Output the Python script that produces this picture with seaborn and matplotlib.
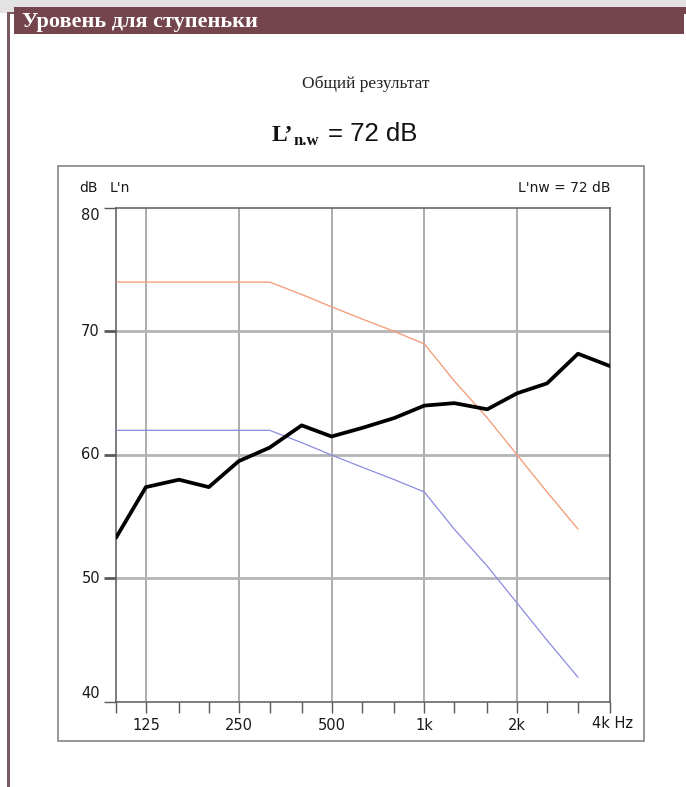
import numpy as np
import pandas as pd
import matplotlib
matplotlib.use("Agg")
import matplotlib.pyplot as plt
import matplotlib.ticker as mticker
from matplotlib.patches import Rectangle
import seaborn as sns

# ---------------- data ----------------
freqs = [100, 125, 160, 200, 250, 315, 400, 500, 630, 800, 1000, 1250, 1600, 2000, 2500, 3150, 4000]
measured = [53.3, 57.4, 58.0, 57.4, 59.5, 60.6, 62.4, 61.5, 62.2, 63.0, 64.0, 64.2, 63.7, 65.0, 65.8, 68.2, 67.2]
ref_freqs = [100, 125, 160, 200, 250, 315, 400, 500, 630, 800, 1000, 1250, 1600, 2000, 2500, 3150]
ref_upper = [74, 74, 74, 74, 74, 74, 73, 72, 71, 70, 69, 66, 63, 60, 57, 54]
ref_lower = [62, 62, 62, 62, 62, 62, 61, 60, 59, 58, 57, 54, 51, 48, 45, 42]
major_x = [125, 250, 500, 1000, 2000, 4000]
major_x_labels = ["125", "250", "500", "1k", "2k", "4k"]
y_ticks = [40, 50, 60, 70, 80]

header_text = "Уровень для ступеньки"
subtitle_text = "Общий результат"
corner_right = "L'nw = 72 dB"

# ---------------- figure ----------------
sns.set_style("white")
W, H = 686, 787
fig = plt.figure(figsize=(W / 100, H / 100), dpi=100)
fig.patch.set_facecolor("white")

def fx(x):
    return x / W

def fy(y):
    return 1 - y / H

def frect(x0, y0, x1, y1, **kw):
    r = Rectangle((fx(x0), fy(y1)), fx(x1) - fx(x0), fy(y0) - fy(y1),
                  transform=fig.transFigure, **kw)
    fig.patches.append(r)

maroon = "#74454d"
# page decoration
frect(0, 0, W, 13, facecolor="#e3e3e3", edgecolor="none")
frect(14, 7, 684, 34, facecolor=maroon, edgecolor="none")
frect(7, 13, 10, H, facecolor="#7a5a60", edgecolor="none")
frect(7, 12, 14, 14, facecolor="#7a5a60", edgecolor="none")
frect(684, 7, 686, 14, facecolor=maroon, edgecolor="none")
frect(58, 166, 644, 741, facecolor="none", edgecolor="#7a7a7a", linewidth=1.1)

fig.text(fx(22), fy(22), header_text, color="white", fontsize=16, fontweight="bold",
         family="Liberation Serif", ha="left", va="center")
fig.text(fx(366), fy(84), subtitle_text, color="#222222", fontsize=12.5,
         family="Liberation Serif", ha="center", va="center")
fig.text(fx(272), fy(141), "L’", color="#111111", fontsize=17, fontweight="bold",
         family="Liberation Serif", ha="left", va="baseline")
fig.text(fx(294), fy(145), "n.w", color="#111111", fontsize=12, fontweight="bold",
         family="Liberation Serif", ha="left", va="baseline")
fig.text(fx(328), fy(141), "= 72 dB", color="#111111", fontsize=18.5,
         family="Liberation Sans", ha="left", va="baseline")

# ---------------- axes ----------------
ax_l, ax_r, ax_t, ax_b = 116, 610, 208, 702
ax = fig.add_axes([fx(ax_l), fy(ax_b), fx(ax_r) - fx(ax_l), fy(ax_t) - fy(ax_b)])
ax.set_facecolor("white")

df_meas = pd.DataFrame({"freq": freqs, "level": measured})
df_up = pd.DataFrame({"freq": ref_freqs, "level": ref_upper})
df_lo = pd.DataFrame({"freq": ref_freqs, "level": ref_lower})

ax.set_xscale("log", base=2)
ax.set_xlim(100, 4000)
ax.set_ylim(40, 80)

for f in major_x[:-1]:
    ax.axvline(f, color="#a6a6a6", linewidth=1.3, zorder=1)
for yv in [50, 60, 70]:
    ax.axhline(yv, color="#b4b4b4", linewidth=2.0, zorder=1)

sns.lineplot(data=df_up, x="freq", y="level", ax=ax, color="#f4a07e", linewidth=1.0, zorder=3)
sns.lineplot(data=df_lo, x="freq", y="level", ax=ax, color="#8c8ce0", linewidth=0.9, zorder=3)
sns.lineplot(data=df_meas, x="freq", y="level", ax=ax, color="black", linewidth=2.7, zorder=4)

ax.set_xlabel("")
ax.set_ylabel("")

spine_c = "#5a5a5a"
for s in ax.spines.values():
    s.set_visible(True)
    s.set_color(spine_c)
    s.set_linewidth(1.1)

txt_c = "#1a1a1a"
# x ticks
ax.xaxis.set_major_locator(mticker.FixedLocator(major_x))
ax.xaxis.set_major_formatter(mticker.FixedFormatter(major_x_labels[:-1] + [""]))
minor = [f for f in freqs if f not in major_x]
ax.xaxis.set_minor_locator(mticker.FixedLocator(minor))
ax.xaxis.set_minor_formatter(mticker.NullFormatter())
ax.tick_params(axis="x", which="both", direction="out", length=8, width=1.0,
               color=spine_c, pad=3.5, labelsize=10.5, labelcolor=txt_c, bottom=True)
for lab in ax.get_xticklabels():
    lab.set_family("DejaVu Sans")
ax.annotate("4k Hz", xy=(4000, 0), xycoords=ax.get_xaxis_transform(),
            xytext=(-18, -21), textcoords="offset pixels", ha="left", va="center",
            fontsize=10.5, color=txt_c, family="DejaVu Sans")

# y ticks
ax.yaxis.set_major_locator(mticker.FixedLocator(y_ticks))
ax.yaxis.set_major_formatter(mticker.NullFormatter())
ax.tick_params(axis="y", which="major", direction="out", length=8.6, width=1.0,
               color=spine_c, left=True)
for t, yv in zip(ax.yaxis.get_major_ticks(), y_ticks):
    if yv in (50, 60, 70):
        t.tick1line.set_color("#b4b4b4")
        t.tick1line.set_markeredgewidth(2.0)
y_offsets = {40: 8, 50: 0, 60: 0, 70: 0, 80: -8}
for yv in y_ticks:
    ax.annotate(str(yv), xy=(0, yv), xycoords=ax.get_yaxis_transform(),
                xytext=(-16, y_offsets[yv]), textcoords="offset pixels",
                ha="right", va="center", fontsize=10.5, color=txt_c, family="DejaVu Sans")

# corner labels
ax.annotate("dB", xy=(0, 1), xycoords="axes fraction", xytext=(-37, 20),
            textcoords="offset pixels", ha="left", va="center", fontsize=10,
            color=txt_c, family="DejaVu Sans")
ax.annotate("L'n", xy=(0, 1), xycoords="axes fraction", xytext=(-6, 20),
            textcoords="offset pixels", ha="left", va="center", fontsize=10,
            color=txt_c, family="DejaVu Sans")
ax.annotate(corner_right, xy=(1, 1), xycoords="axes fraction", xytext=(0, 20),
            textcoords="offset pixels", ha="right", va="center", fontsize=10,
            color=txt_c, family="DejaVu Sans")

fig.savefig("out.png", dpi=100, facecolor=fig.get_facecolor())
